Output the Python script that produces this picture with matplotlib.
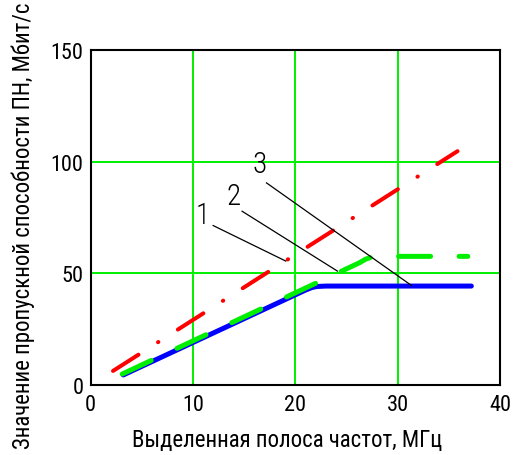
import matplotlib
matplotlib.use("Agg")
import matplotlib.pyplot as plt

# curve 1 (blue), 2 (green), 3 (red)
x_blue = [3.2, 21.0, 21.6, 22.1, 23.0, 37.2]
y_blue = [4.5, 42.5, 43.6, 44.1, 44.3, 44.3]

x_green = [3.1, 26.3, 26.9, 27.5, 28.2, 36.85]
y_green = [4.9, 54.8, 56.4, 57.3, 57.6, 57.6]

x_red = [2.2, 35.85]
y_red = [6.3, 104.7]

# leader lines: label, text position, line start, line end
labels = ["1", "2", "3"]
label_xy = [(11.0, 76.1), (13.93, 84.6), (16.54, 98.8)]
leader_start = [(11.98, 71.4), (14.81, 77.8), (17.19, 90.5)]
leader_end = [(19.07, 55.5), (24.12, 51.0), (31.34, 44.6)]

x_ticks = [0, 10, 20, 30, 40]
y_ticks = [0, 50, 100, 150]

plt.rcParams['font.family'] = ['Roboto Condensed', 'DejaVu Sans']

fig = plt.figure(figsize=(5.13, 4.56), dpi=100)
ax = fig.add_axes([90.5 / 513, 1 - 386 / 456, (500 - 90.5) / 513, (386 - 51) / 456])

ax.set_xlim(0, 40)
ax.set_ylim(0, 150)
ax.set_xticks(x_ticks)
ax.set_yticks(y_ticks)
ax.tick_params(length=0, labelsize=16)
ax.tick_params(axis='x', pad=6.5)
ax.tick_params(axis='y', pad=5)
for s in ax.spines.values():
    s.set_linewidth(1.5)
    s.set_color('black')

ax.grid(True, color='#00f000', linewidth=1.4)
ax.set_axisbelow(True)

ax.plot(x_blue, y_blue, color='#0000ff', linewidth=3.6, solid_capstyle='round',
        solid_joinstyle='round', zorder=3)
ax.plot(x_green, y_green, color='#00ee00', linewidth=3.6, dashes=(6.4, 5.7),
        dash_capstyle='round', dash_joinstyle='round', zorder=4)
ax.plot(x_red, y_red, color='#ff0000', linewidth=2.9, dashes=(7.5, 5.75, 0.1, 5.75),
        dash_capstyle='round', zorder=4)

for lab, (tx, ty), (sx, sy), (ex, ey) in zip(labels, label_xy, leader_start, leader_end):
    ax.plot([sx, ex], [sy, ey], color='black', linewidth=0.9, zorder=5)
    ax.text(tx, ty, lab, fontsize=21, fontweight=300, ha='center', va='center', zorder=5)

fig.text(287 / 513, 1 - 441 / 456, "Выделенная полоса частот, МГц", fontsize=16.5,
         ha='center', va='center')
fig.text(23 / 513, 1 - 449 / 456, "Значение пропускной способности ПН, Мбит/с",
         fontsize=16.5, rotation=90, ha='center', va='bottom')

fig.savefig("out.png", dpi=100)
